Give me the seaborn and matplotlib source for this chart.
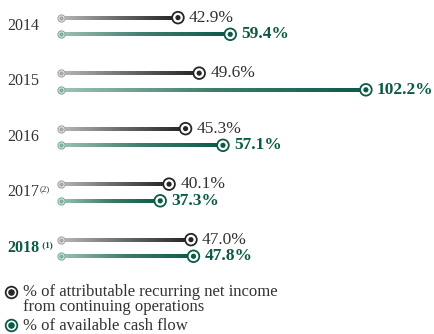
import numpy as np
import pandas as pd
import matplotlib
matplotlib.use("Agg")
import matplotlib.pyplot as plt
import seaborn as sns
from matplotlib.collections import LineCollection
from matplotlib.colors import LinearSegmentedColormap

years = ["2014", "2015", "2016", "2017", "2018"]
notes = ["", "", "", "(2)", " (1)"]
income = [42.9, 49.6, 45.3, 40.1, 47.0]
cash = [59.4, 102.2, 57.1, 37.3, 47.8]
legend_labels = ["% of attributable recurring net income\nfrom continuing operations",
                 "% of available cash flow"]

START = 6.0          # where the bars begin (data units)
GRAY = "#262626"
GREEN = "#0b5a48"
OFF = 0.15           # half gap between the two bars of a year

sns.set_style("white")
plt.rcParams["font.family"] = ["Liberation Serif", "DejaVu Serif"]

W, H = 435, 334
fig = plt.figure(figsize=(W / 100, H / 100), dpi=100)
ax = fig.add_axes([0, 0, 1, 1])
ax.set_xlim(-13.25, 124)
ax.set_ylim(5.55, -0.468)
ax.axis("off")

cmaps = {
    "income": LinearSegmentedColormap.from_list("g", ["#b8b8b8", "#6a6a6a", GRAY]),
    "cash": LinearSegmentedColormap.from_list("t", ["#9cc2b6", "#3f7d6d", GREEN]),
}

rows = []
for i, y in enumerate(years):
    rows.append(dict(series="income", row=i - OFF, value=income[i]))
    rows.append(dict(series="cash", row=i + OFF, value=cash[i]))
df = pd.DataFrame(rows)

# gradient bars
for _, r in df.iterrows():
    xs = np.linspace(START, r.value, 60)
    pts = np.column_stack([xs, np.full_like(xs, r.row)])
    segs = np.stack([pts[:-1], pts[1:]], axis=1)
    lc = LineCollection(segs, cmap=cmaps[r.series], linewidths=2.6, capstyle="projecting",
                        antialiaseds=False)
    lc.set_array(np.linspace(0, 1, len(segs)))
    ax.add_collection(lc)

pal = {"income": GRAY, "cash": GREEN}
light = {"income": "#a8a8a8", "cash": "#7fb0a2"}

# start markers
df["start"] = START
for s in ["income", "cash"]:
    d = df[df.series == s]
    ax.scatter(d.start, d.row, s=26, facecolor="white", edgecolor=light[s], linewidth=0.9, zorder=3)
    ax.scatter(d.start, d.row, s=5, color=light[s], zorder=4)

# end markers
sns.scatterplot(data=df, x="value", y="row", hue="series", palette={k: "white" for k in pal},
                edgecolor=[pal[s] for s in df.series], linewidth=1.3, s=70, legend=False,
                ax=ax, zorder=5)
sns.scatterplot(data=df, x="value", y="row", hue="series", palette=pal, s=14,
                linewidth=0, legend=False, ax=ax, zorder=6)

# value labels
for _, r in df.iterrows():
    bold = r.series == "cash"
    ax.annotate(f"{r.value:.1f}%", (r.value, r.row), xytext=(8, 0), textcoords="offset points",
                va="center", ha="left", fontsize=12.5,
                fontweight="bold" if bold else "normal",
                color=GREEN if bold else "#333333")

# year labels
year_texts = []
for i, y in enumerate(years):
    last = i == len(years) - 1
    t = ax.text(0.016, i, y, transform=ax.get_yaxis_transform(), va="center", ha="left",
                fontsize=11.5, fontweight="bold" if last else "normal",
                color=GREEN if last else "#333333")
    year_texts.append(t)

fig.canvas.draw()
inv = ax.transData.inverted()
for i, t in enumerate(year_texts):
    if not notes[i]:
        continue
    bb = t.get_window_extent()
    x0, y0 = inv.transform((bb.x1 + 1, bb.y1 - 1))
    last = i == len(years) - 1
    ax.text(x0, y0, notes[i], va="top", ha="left", fontsize=6.5,
            fontweight="bold" if last else "normal",
            color=GREEN if last else "#333333")

# legend
for s, yy in [("income", 292), ("cash", 325)]:
    ax.scatter([11 / W], [1 - yy / H], s=70, facecolor="white", edgecolor=pal[s], linewidth=1.3,
               transform=ax.transAxes, clip_on=False, zorder=5)
    ax.scatter([11 / W], [1 - yy / H], s=14, color=pal[s], transform=ax.transAxes,
               clip_on=False, zorder=6)
ax.text(23 / W, 1 - 311 / H, legend_labels[0], transform=ax.transAxes, linespacing=0.95,
        va="baseline", ha="left", fontsize=12, color="#333333")
ax.text(23 / W, 1 - 330 / H, legend_labels[1], transform=ax.transAxes,
        va="baseline", ha="left", fontsize=12, color="#333333")

fig.savefig("out.png", dpi=100)
